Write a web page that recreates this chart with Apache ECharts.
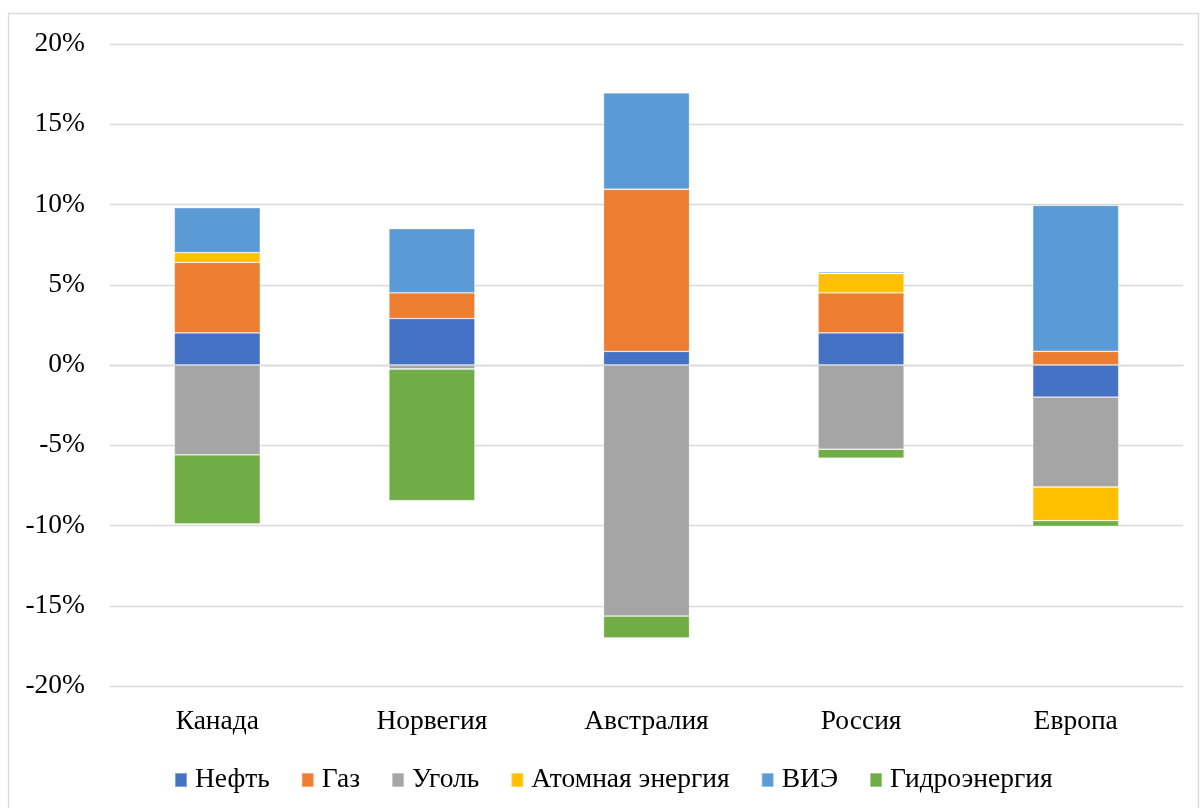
<!DOCTYPE html>
<html>
<head>
<meta charset="utf-8">
<script src="https://cdn.jsdelivr.net/npm/echarts@6/dist/echarts.min.js"></script>
<style>
  html, body { margin: 0; padding: 0; background: #ffffff; }
  #chart { width: 1200px; height: 808px; }
</style>
</head>
<body>
<div id="chart"></div>
<script>
// Regions along the horizontal axis
const categories = ['Канада', 'Норвегия', 'Австралия', 'Россия', 'Европа'];

// Contribution of each energy source, percent
const oil     = [2.0, 2.9, 0.85, 2.0, -2.0];
const gas     = [4.4, 1.6, 10.1, 2.5, 0.85];
const coal    = [-5.6, -0.25, -15.65, -5.25, -5.6];
const nuclear = [0.6, 0, 0, 1.2, -2.1];
const renew   = [2.8, 4.0, 6.0, 0.1, 9.1];
const hydro   = [-4.3, -8.2, -1.35, -0.55, -0.35];

const yTicks = { min: -20, max: 20, interval: 5 };

const seriesDefs = [
  { name: 'Нефть', data: oil, color: '#4472C4' },
  { name: 'Газ', data: gas, color: '#ED7D31' },
  { name: 'Уголь', data: coal, color: '#A5A5A5' },
  { name: 'Атомная энергия', data: nuclear, color: '#FFC000' },
  { name: 'ВИЭ', data: renew, color: '#5B9BD5' },
  { name: 'Гидроэнергия', data: hydro, color: '#70AD47' }
];

const font = '"Liberation Serif", "Times New Roman", serif';

const chart = echarts.init(document.getElementById('chart'), null, { renderer: 'canvas' });

chart.setOption({
  animation: false,
  backgroundColor: '#ffffff',
  graphic: [{
    type: 'rect',
    shape: { x: 8.5, y: 13.5, width: 1190, height: 800 },
    style: { fill: 'none', stroke: '#D9D9D9', lineWidth: 1.3 },
    silent: true,
    z: -1
  }],
  grid: { left: 110, right: 17, top: 44, bottom: 122, containLabel: false },
  legend: {
    top: 761,
    left: 169,
    itemWidth: 12,
    itemHeight: 14,
    itemGap: 31,
    icon: 'rect',
    textStyle: { fontFamily: font, fontSize: 27.5, color: '#000000', padding: [0, 0, 0, 3] },
    data: seriesDefs.map(s => s.name)
  },
  xAxis: {
    type: 'category',
    data: categories,
    axisLine: { show: true, onZero: true, lineStyle: { color: '#D9D9D9', width: 1.3 } },
    axisTick: { show: false },
    axisLabel: {
      fontFamily: font, fontSize: 27.5, color: '#000000',
      margin: 22,
      interval: 0
    },
    position: 'bottom'
  },
  yAxis: {
    type: 'value',
    min: yTicks.min,
    max: yTicks.max,
    interval: yTicks.interval,
    axisLine: { show: false },
    axisTick: { show: false },
    splitLine: { lineStyle: { color: '#D9D9D9', width: 1.3 } },
    axisLabel: {
      fontFamily: font, fontSize: 27.5, color: '#000000',
      margin: 25,
      formatter: v => v + '%'
    }
  },
  series: seriesDefs.map(s => ({
    name: s.name,
    type: 'bar',
    stack: 'total',
    barWidth: 86,
    data: s.data,
    itemStyle: { color: s.color, borderColor: 'rgba(255,255,255,0.35)', borderWidth: 0.8 }
  }))
});
</script>
</body>
</html>
